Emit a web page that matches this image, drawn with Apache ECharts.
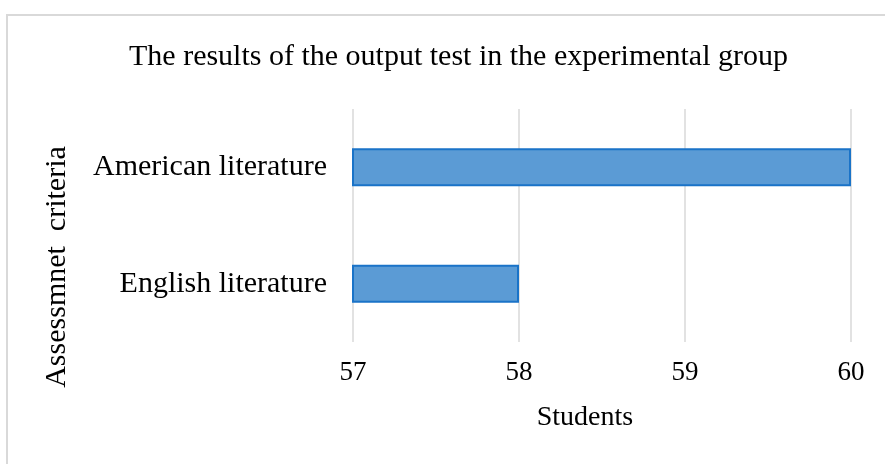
<!DOCTYPE html>
<html>
<head>
<meta charset="utf-8">
<script src="https://cdn.jsdelivr.net/npm/echarts@6/dist/echarts.min.js"></script>
<style>
  html, body { margin: 0; padding: 0; background: #fff; }
  #main { width: 885px; height: 464px; }
</style>
</head>
<body>
<div id="main"></div>
<script>
var categories = ['English literature', 'American literature'];
var students = [58, 60];
var xTicks = [57, 58, 59, 60];

var chartDom = document.getElementById('main');
var myChart = echarts.init(chartDom);
var serif = '"Liberation Serif", "Times New Roman", serif';

var option = {
    backgroundColor: '#fff',
    title: {
        text: 'The results of the output test in the experimental group',
        left: 124,
        top: 37,
        textStyle: {
            fontFamily: serif,
            fontSize: 30,
            fontWeight: 'normal',
            color: '#000'
        }
    },
    grid: {
        left: 353,
        right: 34,
        top: 109,
        bottom: 122
    },
    xAxis: {
        type: 'value',
        min: xTicks[0],
        max: xTicks[xTicks.length - 1],
        interval: 1,
        name: 'Students',
        nameLocation: 'middle',
        nameGap: 62,
        nameTextStyle: { fontFamily: serif, fontSize: 28, color: '#000', padding: [0, 34, 0, 0] },
        axisLine: { show: false },
        axisTick: { show: false },
        axisLabel: { fontFamily: serif, fontSize: 27, color: '#000', margin: 17 },
        splitLine: { show: true, lineStyle: { color: '#d9d9d9', width: 1.5 } }
    },
    yAxis: {
        type: 'category',
        data: categories,
        axisLine: { show: false },
        axisTick: { show: false },
        axisLabel: { fontFamily: serif, fontSize: 30, color: '#000', margin: 26 }
    },
    graphic: [
        {
            type: 'rect',
            shape: { x: 7, y: 15, width: 900, height: 470 },
            style: { fill: 'none', stroke: '#d9d9d9', lineWidth: 2 },
            silent: true
        },
        {
            type: 'text',
            x: 57,
            y: 267,
            rotation: Math.PI / 2,
            style: {
                text: 'Assessmnet  criteria',
                font: '30px ' + serif,
                fill: '#000',
                textAlign: 'center',
                textVerticalAlign: 'middle'
            }
        }
    ],
    series: [
        {
            type: 'bar',
            data: students,
            barWidth: 38,
            itemStyle: {
                color: '#5b9bd5',
                borderColor: '#1a73c8',
                borderWidth: 2
            }
        }
    ]
};

myChart.setOption(option);
</script>
</body>
</html>
